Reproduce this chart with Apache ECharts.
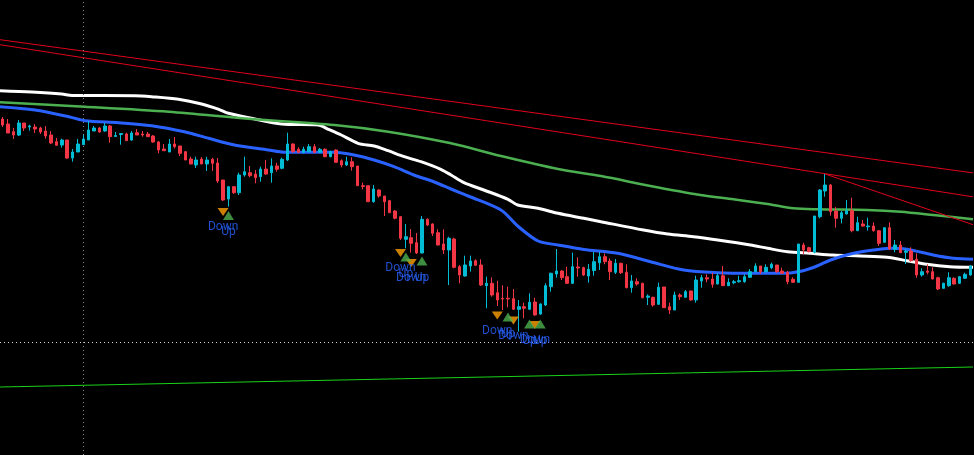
<!DOCTYPE html>
<html>
<head>
<meta charset="utf-8">
<script src="https://cdn.jsdelivr.net/npm/echarts@6/dist/echarts.min.js"></script>
<style>
html,body{margin:0;padding:0;background:#000;}
#chart{width:974px;height:455px;}
</style>
</head>
<body>
<div id="chart"></div>
<script>
// ---- candle data (price units, one entry per bar) ----
const bars = Array.from({length: 181}, (_, i) => String(i + 1));
const opens = [336,331,323.3,320,332,328,328,327,324,320,
313.3,310,315,297,303,310.3,315,324,327,324,
329,318.5,320.5,321,315,322.3,321,321,319,313,
306,303,311,309,303.3,296,290,296,291,295.7,
292,275,256,268.3,262.3,280,282.3,281,278.3,286,
282.3,289,286.7,295,311,305.7,302.7,303.3,308.3,302.7,
305.7,298.3,305,294.3,290,293.3,289,269.3,269.3,253.3,
265,259,254.3,244,238.3,215.7,217.3,212.3,202,235.7,
231,222.3,211,205,216,188.3,179,189,194.3,190,
169.3,171.7,162.3,156.7,156.7,156.3,145.7,148.3,145.7,153,
141,150,168.3,181,184,178.3,171.7,188,187.3,179,
184.5,192.3,198.3,194,182.7,191.7,182.7,167.3,173.3,171.7,
157.7,157.7,150.7,168,148.3,145,160,157.7,164,155,
174,177.3,176,171,179.3,169.3,172.3,173.3,173.3,177.7,
183.3,189,183.3,187.3,190,184,182.7,175.7,172.7,210,
207.3,202.7,238.3,264,270,244,236.7,241,244.3,224.3,
231,228.3,229,224.3,212.7,227.3,205.7,210,202.7,204,
195.7,180,184,183.3,177.3,166.7,169.3,176.7,171.7,176.7,
180];
const closes = [330,322,320,332,327,329,326,323,319,312,
309.7,315,297,303,311,316,325,327,323,329,
318.3,319.5,321.5,314.3,322,320,320,318.3,313,305,
304.3,311,308.3,301.7,295,291,295,291,295,291.7,
274,255,268.3,262.3,280,283.3,279.3,277.3,286,281,
289,285.7,295.7,311,303.3,302.7,305.7,308.3,302.7,305.7,
298.3,303.3,292.7,290,293.3,288.3,269.3,268.5,253.3,266,
259,253.3,242.3,236.7,216.7,218.3,211.7,202,235.7,230,
221.7,210,205,216.7,187.7,180,190,194,189.7,170,
171.7,160,155,156,156,145.7,148.3,146.7,152.7,140,
151,169.3,181.7,184,177.3,171.7,188.3,187,180,185.7,
193.3,198.3,193.3,183.3,191.7,182.3,167.3,174,171,157.3,
159,150,167.7,147.3,145,160,158.3,163.3,155,175,
177.3,176,170.7,179.3,169.3,172.7,173.3,174.3,178.3,183.3,
189,183.3,187.7,190.7,183.3,181.7,173.3,172.7,211,205,
203.3,239,265,270,243.3,236.7,242.3,244.3,224.3,232.3,
229,229,224.3,211.7,227.3,206,210,202.3,204,194.3,
180,183.3,182.7,176,166,171.7,177.3,171,178.3,180.7,
189];
const lows = [328,322,316,319,324,324.3,322,321,316.3,311,
309.7,307.3,296,293.3,303,310,315,324,322.3,323.3,
312.3,318,310.3,314.3,314.3,320,318.3,318.3,312.3,301.7,
304,303,306.7,299,295,291,287,291,284,284,
272,254,248.3,261,260,278.3,277.7,271.7,273.3,280,
272.3,283.3,285.7,294,302.3,301.7,301.7,302.7,301.7,302,
297.7,297.7,292.3,287.7,289,284.3,269.3,265.7,253.3,252.3,
257.3,239,242.3,235.7,215,206.7,202.3,201,201.7,229,
219,209.5,201,170,186.7,171.7,178.3,183.3,189,169,
146.7,158.3,149,145,147.7,145,123.3,136.7,145,139.3,
140,149,163.3,177.3,175,171,171,178.3,179,172.3,
179.3,185,190.7,175,181,181,166.7,162.3,169.3,156.7,
150,148.3,150,147.3,141,145,155,157.7,154.3,152.3,
167.3,172.7,167.3,170.7,169,169,170.7,172.3,172.3,177.3,
182.7,181,182.3,185.7,182.3,181.7,170.7,172.3,172.7,200.7,
202.7,201.7,236.7,258.3,239.3,227.3,231.7,240.7,222.7,224.3,
228.3,224.3,223.3,209,212.3,205,202.7,202.3,191,193.3,
177.3,178.3,180.7,175.7,165,166,168.3,170.7,171,176,
179.3];
const highs = [338,336,327,335,332,330.3,331,328.3,329,324,
317,316.3,315,306,316,320,334,329,328,332,
330,323,322,322.3,324,326,324,323,320,314,
311,316,318,309,304,298.3,298.3,298,298.3,297.3,
297,275,269,269,282.3,298.3,289,285,288.3,295,
296.7,292.3,297.3,322.3,311.7,307.7,308.3,311,311,307,
306.7,304.3,305.7,295.7,298.3,297.7,289,272.3,269.3,270,
265.7,259,255,245,239,231,226,222,239,236.7,
231.7,225.7,225.7,218.3,217.3,190,199.3,199.3,195.7,195.7,
178.3,177.7,174.3,169.7,168.3,166,155,152.3,161.7,157.3,
151.7,171.7,182.3,206,185,188.3,202.3,197.7,188.3,191,
203.3,203,201.7,196.7,196,192.3,190.7,180,176.7,172.3,
160.7,158.3,172.3,168,152.3,163.3,161.7,165,164.3,179.3,
180,180.7,182.3,181.7,189,176.7,175,179.3,180.7,186,
191.7,189,190.7,192.3,190,187.3,184,177.7,211,212.3,
208.3,239,266,281,271,248,244,255,257.3,238.3,
235,237.3,232.7,225,227.3,232.7,215,214,206,207.7,
201.7,186.7,190.7,187.7,178.3,172.3,182.7,177.7,179,182.3,
190];

// ---- moving averages (bar position, value) ----
const maWhiteAt = [-0.5,5.4,11.0,12.9,24.6,27.7,32.7,37.0,40.2,42.0,46.3,51.9,58.7,60.6,63.0,66.1,69.1,71.7,74.7,77.8,81.5,83.4,85.8,89.5,94.0,95.8,99.6,103.3,108.1,111.3,119.2,123.7,128.5,133.0,139.1,142.3,146.0,150.2,154.5,159.5,164.5,168.2,171.9,176.2,180.5];
const maWhite   = [364.3,363,361,359.5,359.3,358.3,355.7,351,345.7,341.7,336.7,331,330,325.7,320,311.7,309,304.3,298.3,293.3,285.7,280,272.3,265,255.7,250,246.7,241.7,236.7,233.3,225,221,218.3,215,210,206.7,203.3,201.7,200,199,197.7,194.3,190.7,188.3,187.7];
const maGreenAt = [-0.5,15.3,30.9,46.3,61.7,71.7,83.4,92.7,103.3,111.3,120.5,129.8,136.0,142.3,147.1,151.5,160.8,167.0,173.1,180.5];
const maGreen   = [352.7,348.3,343.3,336,330,323.3,311.7,299,286,279,269,260,255.7,251,246.7,245.7,245,243.3,240,235.7];
const maBlueAt  = [-0.5,6.0,12.3,15.3,21.6,27.7,33.8,38.3,43.1,49.4,52.4,61.7,65.4,69.1,72.8,76.5,80.3,83.4,86.6,92.7,95.8,99.6,103.3,108.1,114.4,120.5,126.7,133.0,139.1,145.2,148.9,151.5,154.0,157.7,162.0,165.1,168.2,173.1,176.8,180.5];
const maBlue    = [348.3,345,338.3,334.3,332.3,329.3,323.3,316.7,310,305,302.7,302.7,300,295,288.3,280,273,266,259,245,229,214,210,205.5,201.7,193.3,185,182.3,181.7,181.7,184.3,189,195,201,205,206.7,205.7,200,196.7,195.7];

// ---- trend lines (bar position, value) ----
const trendUpperAt = [-0.5, 180.5], trendUpper = [415.3, 282.1];
const trendMidAt   = [-0.5, 180.5], trendMid   = [410.3, 258.2];
const trendSteepAt = [153, 180.5],  trendSteep = [281, 230.3];
const supportAt    = [-0.5, 180.5], support    = [68, 88];

// ---- signals ----
const downBars = [41, 74, 76, 92, 95, 99];
const downVals = [243, 202, 192, 139.5, 134.5, 130];
const upBars   = [42, 75, 78, 94, 98, 100];
const upVals   = [239.5, 198, 194, 138, 131, 131];

// ---- crosshair ----
const crossBar = 15;
const crossPrice = 113;

const UP = '#00bcd4', DOWN = '#f23645';
const pairs = (xs, ys) => xs.map((x, i) => [x, ys[i]]);

const chart = echarts.init(document.getElementById('chart'), null, {renderer: 'canvas'});
const lineSeries = (name, xs, ys, color, width, z) => ({
  name, type: 'line', xAxisIndex: 1, yAxisIndex: 0,
  data: pairs(xs, ys), showSymbol: false, symbol: 'none', smooth: 0.3,
  lineStyle: {color, width}, z, silent: true, animation: false
});
const trendSeries = (name, xs, ys, color) => ({
  name, type: 'line', xAxisIndex: 1, yAxisIndex: 0,
  data: pairs(xs, ys), showSymbol: false, symbol: 'none',
  lineStyle: {color, width: 1}, z: 4, silent: true, animation: false
});
const labelStyle = (text, dy) => ({
  show: true, formatter: text, position: 'inside', offset: [0, dy],
  color: '#2962ff', fontSize: 12, fontFamily: 'Roboto'
});

chart.setOption({
  backgroundColor: '#000000',
  animation: false,
  grid: {left: -2, right: 1, top: 0, bottom: 0, containLabel: false},
  xAxis: [
    {type: 'category', data: bars, boundaryGap: true, show: false},
    {type: 'value', min: -0.5, max: 180.5, show: false}
  ],
  yAxis: [{type: 'value', min: 0, max: 455, show: false, splitLine: {show: false}}],
  series: [
    lineSeries('MA white', maWhiteAt, maWhite, '#ffffff', 3, 2),
    lineSeries('MA green', maGreenAt, maGreen, '#4caf50', 2.5, 2),
    lineSeries('MA blue', maBlueAt, maBlue, '#2962ff', 3, 2),
    trendSeries('Trend 1', trendUpperAt, trendUpper, '#e0001b'),
    trendSeries('Trend 2', trendMidAt, trendMid, '#e0001b'),
    trendSeries('Trend 3', trendSteepAt, trendSteep, '#e0001b'),
    trendSeries('Support', supportAt, support, '#19d219'),
    {
      name: 'Price', type: 'candlestick', xAxisIndex: 0, yAxisIndex: 0,
      data: opens.map((o, i) => [o, closes[i], lows[i], highs[i]]),
      barWidth: 3, z: 5,
      itemStyle: {color: UP, color0: DOWN, borderColor: UP, borderColor0: DOWN, borderWidth: 1},
      markLine: {
        silent: true, symbol: 'none', animation: false,
        label: {show: false},
        data: [
          {xAxis: bars[crossBar], lineStyle: {color: '#8a8a8a', type: [1, 3], width: 1}},
          {yAxis: crossPrice, lineStyle: {color: '#d8d8d8', type: [1, 3], width: 1}}
        ]
      }
    },
    {
      name: 'Down', type: 'scatter', xAxisIndex: 0, yAxisIndex: 0, z: 7,
      data: downBars.map((b, i) => [bars[b], downVals[i]]),
      symbol: 'triangle', symbolRotate: 180, symbolSize: [11, 8],
      itemStyle: {color: '#ffa000'},
      label: labelStyle('Down', 15)
    },
    {
      name: 'Up', type: 'scatter', xAxisIndex: 0, yAxisIndex: 0, z: 7,
      data: upBars.map((b, i) => [bars[b], upVals[i]]),
      symbol: 'triangle', symbolSize: [11, 9],
      itemStyle: {color: '#4caf50'},
      label: labelStyle('Up', 16.5)
    }
  ]
});
</script>
</body>
</html>
